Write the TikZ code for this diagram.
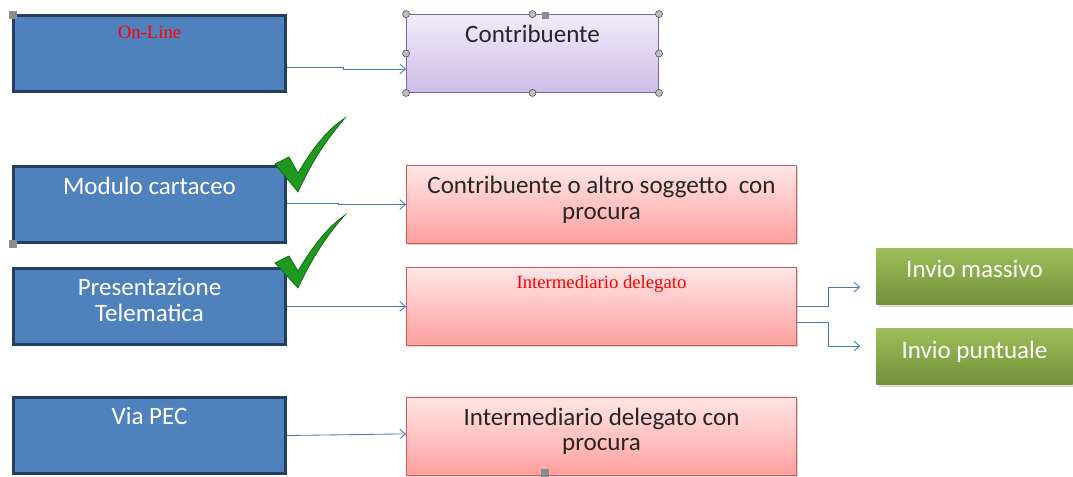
\documentclass[tikz,border=0pt]{standalone}
\usepackage{fontspec}
\setmainfont{Carlito}
\newfontfamily\redserif{Liberation Serif}
\usepackage{xcolor}
\usetikzlibrary{arrows.meta,positioning,shadows}
\definecolor{chanblue}{RGB}{79,129,189}
\definecolor{chanedge}{RGB}{36,62,95}
\definecolor{lilactop}{RGB}{241,236,250}
\definecolor{lilacbot}{RGB}{204,188,232}
\definecolor{lilacedge}{RGB}{128,100,162}
\definecolor{pinktop}{RGB}{255,230,230}
\definecolor{pinkbot}{RGB}{255,160,158}
\definecolor{pinkedge}{RGB}{200,90,88}
\definecolor{greentop}{RGB}{158,191,90}
\definecolor{greenbot}{RGB}{114,144,56}
\definecolor{linkblue}{RGB}{70,120,190}
\definecolor{tickgreen}{RGB}{30,152,30}
\definecolor{tickedge}{RGB}{18,105,18}

\tikzset{
  chan/.style={draw=chanedge, line width=2pt, fill=chanblue, minimum width=6.8cm, minimum height=1.9cm, inner sep=0},
  who/.style={draw=pinkedge, line width=0.6pt, top color=pinktop, bottom color=pinkbot, minimum width=9.75cm, minimum height=1.95cm, inner sep=0,
    drop shadow={shadow xshift=1.2pt, shadow yshift=-1.2pt, fill=black!30}},
  mode/.style={top color=greentop, bottom color=greenbot, minimum width=4.9cm, minimum height=1.42cm, inner sep=0,
    drop shadow={shadow xshift=1.5pt, shadow yshift=-1.5pt, fill=black!30}},
  txt/.style={anchor=north, inner sep=0, align=center, font=\fontsize{17.8}{18}\selectfont},
  redtxt/.style={anchor=north, inner sep=0, text=red, font=\redserif\fontsize{13.3}{15}\selectfont},
  link/.style={draw=linkblue, line width=0.6pt, -{Straight Barb[length=4pt,width=7pt]}},
  handle/.style={circle, draw=black!70, fill=black!25, line width=0.4pt, inner sep=0, minimum size=5pt},
  grip/.style={draw=black!45, fill=black!45, inner sep=0, minimum size=5pt},
  tick/.style={fill=tickgreen, draw=tickedge, line width=0.5pt}
}

\begin{document}
\begin{tikzpicture}[x=0.025cm, y=-0.025cm]
  \useasboundingbox (0,0) rectangle (1073,476);

  % channels
  \node[chan] (online) at (149.5,53.5) {};
  \node[chan] (modulo) at (149.5,204.5) {};
  \node[chan] (telem) at (149.5,306.5) {};
  \node[chan] (pec) at (149.5,435.5) {};
  \node[redtxt] (online-t) at ([yshift=-8pt]online.north) {On-Line};
  \node[txt, text=white] (modulo-t) at ([yshift=-8pt]modulo.north) {Modulo cartaceo};
  \node[txt, text=white] (telem-t) at ([yshift=-8pt]telem.north) {Presentazione\\Telematica};
  \node[txt, text=white] (pec-t) at ([yshift=-8pt]pec.north) {Via PEC};

  % who sends
  \node[draw=lilacedge, line width=0.6pt, top color=lilactop, bottom color=lilacbot, minimum width=6.3cm, minimum height=1.95cm, inner sep=0] (contrib) at (532.5,53.5) {};
  \node[who] (procura) at (601.5,204.5) {};
  \node[who] (interm) at (601.5,306.5) {};
  \node[who] (interpec) at (601.5,436) {};
  \node[txt, text=black!85] (contrib-t) at ([yshift=-8pt]contrib.north) {Contribuente};
  \node[txt, text=black!85] (procura-t) at ([yshift=-8pt]procura.north) {Contribuente o altro soggetto\ \ con\\procura};
  \node[redtxt] (interm-t) at ([yshift=-6pt]interm.north) {Intermediario delegato};
  \node[txt, text=black!85] (interpec-t) at ([yshift=-8pt]interpec.north) {Intermediario delegato con\\procura};

  % sending modes
  \node[mode] (massivo) at (974.5,276.5) {};
  \node[mode] (puntuale) at (974.5,356.5) {};
  \node[txt, text=white] (massivo-t) at ([yshift=-9pt]massivo.north) {Invio massivo};
  \node[txt, text=white] (puntuale-t) at ([yshift=-9pt]puntuale.north) {Invio puntuale};

  % connectors
  \draw[link] ([yshift=-9.6pt]online.east) -- ++(56,0) |- ([yshift=-11pt]contrib.west);
  \draw[link] ([yshift=1pt]modulo.east) -- ++(51,0) |- (procura.west);
  \draw[link] (telem.east) -- (interm.west);
  \draw[link] (pec.east) -- ([yshift=1.5pt]interpec.west);
  \draw[link] (interm.east) -- ++(31,0) |- ([xshift=-11.4pt,yshift=-7.5pt]massivo.west);
  \draw[link] ([yshift=-11.4pt]interm.east) -- ++(31,0) |- ([xshift=-11.4pt,yshift=7.5pt]puntuale.west);

  % ticks
  \draw[tick] (275,164) -- (289,157) -- (298,173) .. controls (314,146) and (328,129) .. (345,118)
    .. controls (322,145) and (310,166) .. (298,192) -- cycle;
  \draw[tick] (275,263) -- (289,256) -- (298,271) .. controls (314,244) and (328,227) .. (345,215)
    .. controls (322,241) and (310,263) .. (298,288) -- cycle;

  % selection handles
  \foreach \p in {contrib.north west, contrib.north, contrib.north east, contrib.west, contrib.east,
    contrib.south west, contrib.south, contrib.south east}
    \node[handle] at (\p) {};
  \node[grip, minimum size=4pt] (rot) at (545,15) {};
  \node[grip] (g1) at (13,15) {};
  \node[grip] (g2) at (13,244) {};
  \node[grip] (g3) at (545,473) {};
\end{tikzpicture}
\end{document}
